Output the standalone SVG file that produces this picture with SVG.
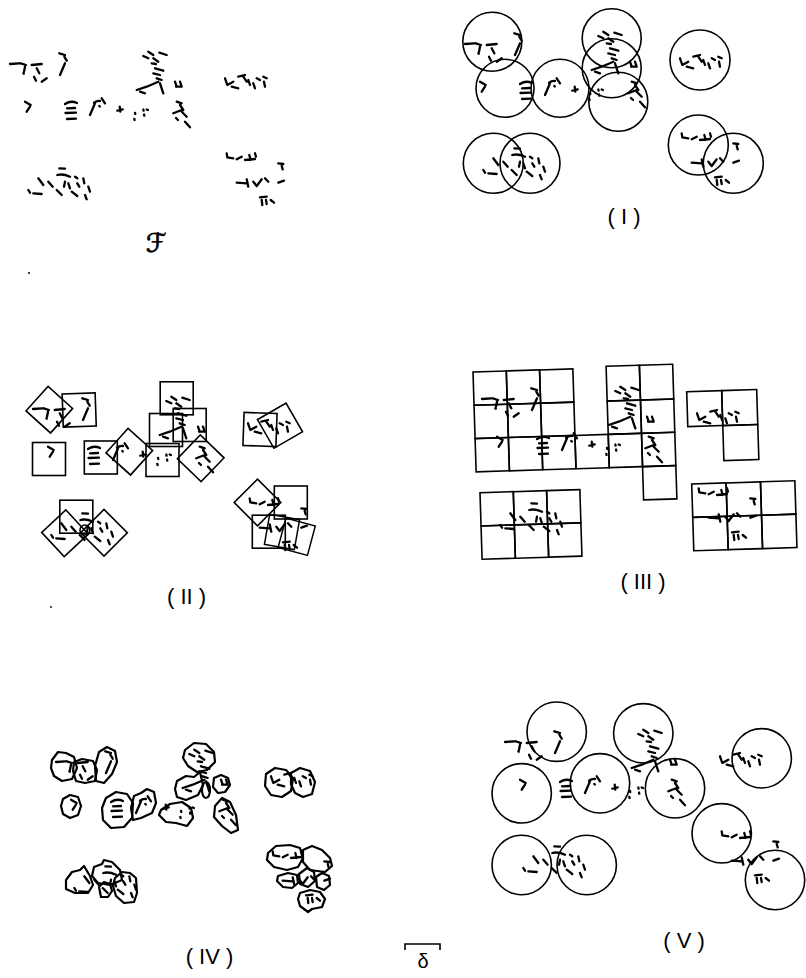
<svg xmlns="http://www.w3.org/2000/svg" xmlns:xlink="http://www.w3.org/1999/xlink" width="806" height="978" viewBox="0 0 806 978">
<style>
.d{fill:none;stroke:#000;stroke-width:2.3;stroke-linecap:round;stroke-linejoin:round}
.c{fill:none;stroke:#000;stroke-width:1.6}
.b{fill:none;stroke:#000;stroke-width:2.2;stroke-linejoin:round}
.t{font-family:"Liberation Sans",Arial,sans-serif;font-size:22px;fill:#000;text-anchor:middle}
</style>
<defs>
<g id="pts" class="d">
<path d="M10,64 L19.3,63.3 M20.7,63.3 L26,65 M25,66.7 L24,71.7 M31.7,65 L41.7,64 M36.7,68.3 L39.3,73.3 M23.3,73.3 l0.5,0.5 M34,76.7 L36,80.7 M41.7,81.7 L46.7,78.3 M59.3,53.3 L65,55 M64.3,56.7 L66.7,60.7 M65,63.3 L60,75"/>
<path d="M25,101.7 L30.7,105 M30,106.7 L26.7,111.7"/>
<path d="M65,104 Q71,100 77,103 M67,108.3 L75,108 M65.5,113 L76,112.7 M67,119 L76,118.7"/>
<path d="M94,102.7 Q97,100.5 100,101 M95,103.3 L90,115 M101.7,98.3 L105,103.3 M99.3,106 l0.5,0.6"/>
<path d="M117.3,110.7 L122.7,109.3 M119.7,106.7 L120.3,111.7"/>
<path d="M143.3,109.5 l0.3,1.2 M144,114.5 l0.3,1.2 M135,112.8 l0.3,1.2 M134.3,118.8 l0.3,1.2 M146.7,109.5 l1.2,0.5"/>
<path d="M176.7,101.7 L181.7,103.3 M180,105 L183.3,110 M173.3,113.3 L181.7,110 M181.7,111.7 L186.7,116.7 M176,118 L178,120 M185,121.7 L190,127.3"/>
<path d="M143.3,56 L148.3,58.3 M148.3,51.7 L153.3,55 M153.3,58.3 L158.3,61.7 M159.3,52.7 L166.7,55 M151.7,63.3 L156,64 M155,68.3 L163.3,70.7 M153.3,73.3 L160,75 M156.7,78.3 L161.7,80 M136.7,90 L146.7,86.7 L158.3,81.7 M140,91.7 L145,93.3 M160,83.3 L163.3,93.3 M175,81.7 L176.7,86.7 M180,81.7 L181.7,86.7 M176,86.7 L181.7,86.7"/>
<path d="M225,78.3 L227.3,85 L233.3,81.7 M231.7,86.7 L238.3,88.3 M238.3,76.7 L245,75 M243.3,76.7 L246.7,81.7 M248.3,80 L250,85 M253.3,83.3 L255,88.3 M256.7,78.3 L260,80 M263.3,76.7 L266.7,78.3 M264,81.7 L265,86.7"/>
<path d="M28.3,190 L30,192.7 M33.3,193.3 L41.7,194 M38.3,178.3 L43.3,185 M48.3,181.7 L52.7,186.7 M59.3,168.3 L65,168.7 M57.3,175 Q63,173.5 70,176.7 M65,181.7 L64,186.7 M56.7,190 L61.7,195 M68.3,183.3 L70,188.3 M75,176.7 L77.3,178.3 M71.7,191.7 L77.3,196 M77.3,183.3 L79.3,186.7 M83.3,178.3 L84.3,183.3 M88.3,186.7 L90,191.7 M85,195 L86.7,199.3"/>
<path d="M226.7,153.3 L227.3,157.3 L233.3,158.3 M236.7,159.3 L241.7,156.7 M245,160 L255,159 M249.3,155 L250.7,160 M255,153.3 L256,156.7 M278.3,163.3 L283.3,164 M281.7,166 L282.7,169.3 M236.7,182.7 L246.7,183.3 M246.7,179.3 L248.3,186.7 M253.3,181.7 L256.7,186 L261.7,179.3 M265,178.3 L268.3,181.7 M278.3,182.7 L284,180.7 M260,197.3 L266.7,196.7 M261.7,200 L262.3,205 M266,200 L266.7,204 M270.7,200 L274,202.7"/>
</g>
<rect id="sq" x="-16.5" y="-16.5" width="33" height="33" class="c"/>
</defs>

<g id="panel-F">
<use xlink:href="#pts"/>
<text x="156" y="252" style="font-family:'DejaVu Sans','Noto Sans',sans-serif;font-size:26px" stroke="#000" stroke-width="0.7" text-anchor="middle">ℱ</text>
<circle cx="29" cy="273" r="1" fill="#000"/>
</g>

<g id="panel-I">
<use xlink:href="#pts" transform="translate(455,-20)"/>
<g class="c">
<circle cx="492.3" cy="41.7" r="29.5"/>
<circle cx="505" cy="88.3" r="29"/>
<circle cx="560" cy="88.3" r="29"/>
<circle cx="611.7" cy="38.3" r="29.5"/>
<circle cx="611.7" cy="68.3" r="29.5"/>
<circle cx="618.3" cy="101.7" r="29.5"/>
<circle cx="700" cy="60" r="30"/>
<circle cx="698.3" cy="145" r="30"/>
<circle cx="733.3" cy="163.3" r="30"/>
<circle cx="493.3" cy="163.3" r="30"/>
<circle cx="530" cy="163.3" r="30"/>
</g>
<text class="t" x="624" y="224">( I )</text>
</g>

<g id="panel-II">
<use xlink:href="#pts" transform="translate(23,345)"/>
<use xlink:href="#sq" transform="translate(49.3,409.7) rotate(42)"/>
<use xlink:href="#sq" transform="translate(79.2,410) rotate(-2)"/>
<use xlink:href="#sq" transform="translate(49,459)"/>
<use xlink:href="#sq" transform="translate(100.8,457.5)"/>
<use xlink:href="#sq" transform="translate(129.3,451.7) rotate(42)"/>
<use xlink:href="#sq" transform="translate(176.7,398.3)"/>
<use xlink:href="#sq" transform="translate(166,430)"/>
<use xlink:href="#sq" transform="translate(189.7,425)"/>
<use xlink:href="#sq" transform="translate(162.5,460)"/>
<use xlink:href="#sq" transform="translate(200.7,458.3) rotate(44)"/>
<use xlink:href="#sq" transform="translate(260,429.5) rotate(2)"/>
<use xlink:href="#sq" transform="translate(280,425.7) rotate(60)"/>
<use xlink:href="#sq" transform="translate(257.5,502.5) rotate(45)"/>
<use xlink:href="#sq" transform="translate(290.8,502.5)"/>
<use xlink:href="#sq" transform="translate(268.8,531.7)"/>
<use xlink:href="#sq" transform="translate(282,532) rotate(10) scale(0.92)"/>
<use xlink:href="#sq" transform="translate(296.7,536.7) rotate(15) scale(0.92)"/>
<use xlink:href="#sq" transform="translate(76.3,516.7)"/>
<use xlink:href="#sq" transform="translate(65,533.3) rotate(47)"/>
<use xlink:href="#sq" transform="translate(104,532.7) rotate(45)"/>
<circle class="c" cx="85" cy="530" r="5"/>
<text class="t" x="186.5" y="604">( II )</text>
<circle cx="51" cy="607" r="0.9" fill="#000"/>
</g>

<g id="panel-III">
<use xlink:href="#pts" transform="translate(472,335)"/>
<g class="c" transform="translate(473,372) rotate(-1.8)">
<rect x="0" y="0" width="33.3" height="33.3"/><rect x="33.3" y="0" width="33.3" height="33.3"/><rect x="66.6" y="0" width="33.3" height="33.3"/>
<rect x="0" y="33.3" width="33.3" height="33.3"/><rect x="33.3" y="33.3" width="33.3" height="33.3"/><rect x="66.6" y="33.3" width="33.3" height="33.3"/>
<rect x="0" y="66.6" width="33.3" height="33.3"/><rect x="33.3" y="66.6" width="33.3" height="33.3"/><rect x="66.6" y="66.6" width="33.3" height="33.3"/>
<rect x="99.9" y="66.6" width="33.3" height="33.3"/><rect x="133.2" y="66.6" width="33.3" height="33.3"/><rect x="166.5" y="66.6" width="33.3" height="33.3"/>
<rect x="133.2" y="-1.5" width="33.3" height="34.8"/><rect x="166.5" y="-1.5" width="33.3" height="34.8"/>
<rect x="133.2" y="33.3" width="33.3" height="33.3"/><rect x="166.5" y="33.3" width="33.3" height="33.3"/>
<rect x="166.5" y="99.9" width="33.3" height="33.3"/>
</g>
<g class="c" transform="translate(686.7,391.7) rotate(-1.8)">
<rect x="0" y="0" width="35" height="35"/><rect x="35" y="0" width="35" height="35"/><rect x="35" y="35" width="35" height="35"/>
</g>
<g class="c" transform="translate(480,492.7) rotate(-1.8)">
<rect x="0" y="0" width="33.3" height="33.3"/><rect x="33.3" y="0" width="33.3" height="33.3"/><rect x="66.6" y="0" width="33.3" height="33.3"/>
<rect x="0" y="33.3" width="33.3" height="33.3"/><rect x="33.3" y="33.3" width="33.3" height="33.3"/><rect x="66.6" y="33.3" width="33.3" height="33.3"/>
</g>
<g class="c" transform="translate(691.7,484) rotate(-1.8)">
<rect x="0" y="0" width="34.4" height="33.4"/><rect x="34.4" y="0" width="34.4" height="33.4"/><rect x="68.8" y="0" width="34.4" height="33.4"/>
<rect x="0" y="33.4" width="34.4" height="33.4"/><rect x="34.4" y="33.4" width="34.4" height="33.4"/><rect x="68.8" y="33.4" width="34.4" height="33.4"/>
</g>
<text class="t" x="643" y="589">( III )</text>
</g>

<g id="panel-IV">
<use xlink:href="#pts" transform="translate(46,698)"/>
<g class="b">
<polygon points="52,760 58,752 66,753 74,757 77,768 72,779 62,781 54,776 51,768"/>
<polygon points="74,762 82,759 93,761 97,770 95,781 85,783 76,781 73,771"/>
<polygon points="99,752 107,747 115,751 117,762 112,774 104,783 96,781 95,766"/>
<polygon points="63,799 70,795 78,797 81,806 78,815 70,818 63,814 61,806"/>
<polygon points="106,798 116,792 127,794 133,803 132,818 124,827 111,828 103,820 102,808"/>
<polygon points="134,796 141,793 147,789 154,792 156,803 152,813 141,818 133,820 131,808"/>
<polygon points="185,750 194,743 206,744 214,752 215,762 207,770 197,772 188,766 183,758"/>
<polygon points="177,781 186,776 194,777 200,772 203,785 198,795 186,800 177,797 175,789"/>
<ellipse cx="206" cy="790" rx="4" ry="8"/>
<polygon points="214,778 221,775 228,778 230,785 225,792 218,793 213,787"/>
<polygon points="161,810 170,804 182,802 191,808 193,818 187,826 176,823 166,822 159,815"/>
<polygon points="215,806 222,798 230,802 236,815 238,830 231,833 222,826 214,817"/>
<polygon points="266,774 275,768 286,770 293,778 291,791 282,797 271,795 265,786"/>
<polygon points="291,773 300,768 310,771 315,782 312,794 303,797 295,793 291,784"/>
<polygon points="66,880 72,872 80,870 84,866 90,876 93,885 88,893 75,893 66,889"/>
<polygon points="94,867 102,864 104,860 112,862 120,870 122,880 110,885 98,883 92,876"/>
<polygon points="115,878 122,872 130,873 136,878 137,893 134,902 124,903 116,896 113,886"/>
<polygon points="99,887 104,882 110,884 112,891 108,897 101,897"/>
<polygon points="268,853 276,846 290,845 300,848 303,858 298,867 287,870 274,867 267,860"/>
<polygon points="303,850 312,846 322,850 330,858 332,866 325,872 310,870 303,862"/>
<polygon points="278,876 288,873 297,875 298,883 292,888 283,887 277,881"/>
<polygon points="299,874 307,868 314,872 315,881 308,887 300,884"/>
<polygon points="316,877 322,873 329,876 330,885 324,890 317,887"/>
<polygon points="300,893 310,890 320,892 325,899 322,907 312,909 308,912 300,906 298,899"/>
</g>
<text class="t" x="209.5" y="964">( IV )</text>
</g>

<g id="panel-V">
<use xlink:href="#pts" transform="translate(495,678)"/>
<g class="c">
<circle cx="556.7" cy="731.7" r="29.7"/>
<circle cx="521.7" cy="793.3" r="29.7"/>
<circle cx="600" cy="783.3" r="29.7"/>
<circle cx="643.3" cy="733.3" r="29.7"/>
<circle cx="675" cy="788.3" r="29.7"/>
<circle cx="761.7" cy="758.3" r="29.7"/>
<circle cx="721.7" cy="833.3" r="29.7"/>
<circle cx="775" cy="880" r="29.7"/>
<circle cx="521.7" cy="865" r="29.7"/>
<circle cx="586.7" cy="865" r="29.7"/>
</g>
<text class="t" x="684" y="948">( V )</text>
</g>

<g id="scale">
<path d="M405,950 V944 H440 V950" class="c"/>
<text x="423" y="968" style="font-family:'Liberation Sans',Arial,sans-serif;font-size:20px" text-anchor="middle">δ</text>
</g>
</svg>
